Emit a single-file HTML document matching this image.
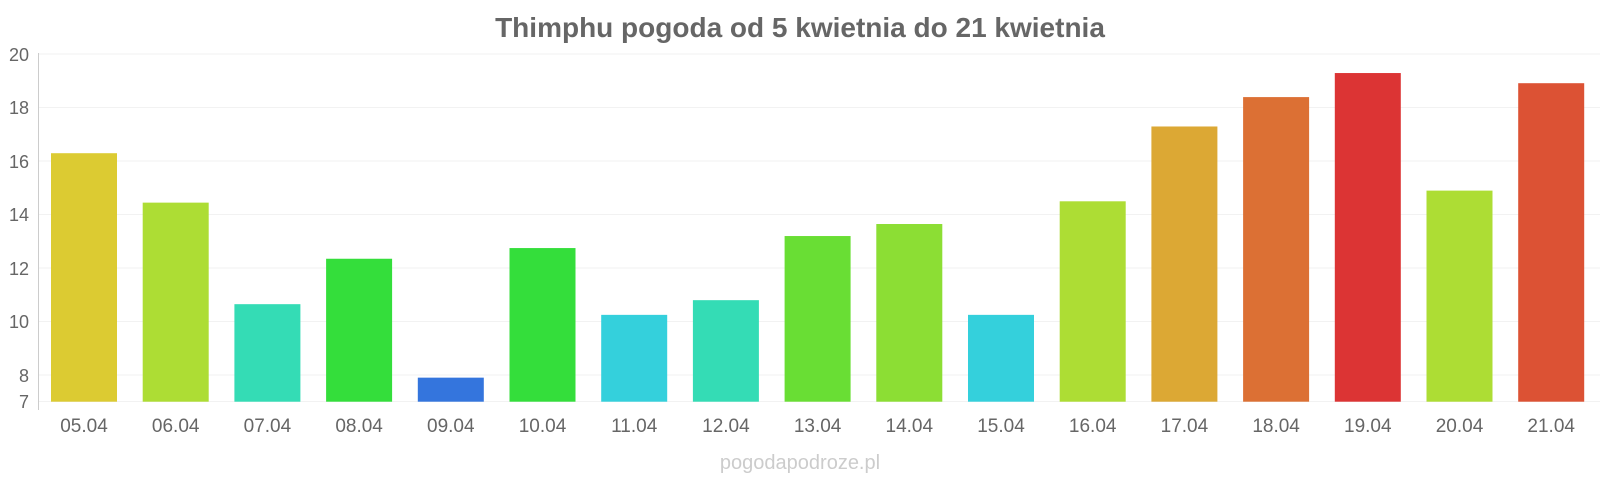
<!DOCTYPE html>
<html><head><meta charset="utf-8"><style>html,body{margin:0;padding:0;background:#fff}svg{display:block}</style></head>
<body>
<svg width="1600" height="480" xmlns="http://www.w3.org/2000/svg" font-family="Liberation Sans, sans-serif">
<text x="800" y="37" text-anchor="middle" font-size="28" font-weight="bold" fill="#666">Thimphu pogoda od 5 kwietnia do 21 kwietnia</text>
<g stroke="#f2f2f2" stroke-width="1">
<line x1="39" x2="1600" y1="54" y2="54"/><line x1="39" x2="1600" y1="107.5" y2="107.5"/><line x1="39" x2="1600" y1="161" y2="161"/><line x1="39" x2="1600" y1="214.5" y2="214.5"/><line x1="39" x2="1600" y1="268" y2="268"/><line x1="39" x2="1600" y1="321.5" y2="321.5"/><line x1="39" x2="1600" y1="375" y2="375"/><line x1="39" x2="1600" y1="401.5" y2="401.5"/>
</g>
<line x1="38.5" x2="38.5" y1="53" y2="410" stroke="#ccc"/>
<g font-size="18" fill="#666" text-anchor="end">
<text x="29" y="61">20</text><text x="29" y="114">18</text><text x="29" y="168">16</text><text x="29" y="221">14</text><text x="29" y="275">12</text><text x="29" y="328">10</text><text x="29" y="382">8</text><text x="29" y="408">7</text>
</g>
<g id="bars"></g>
<g font-size="19" fill="#666" text-anchor="middle" id="labels"></g>
<text x="800" y="469" text-anchor="middle" font-size="20" fill="#ccc">pogodapodroze.pl</text>
<script>
var v=[16.3,14.45,10.65,12.35,7.9,12.75,10.25,10.8,13.2,13.65,10.25,14.5,17.3,18.4,19.3,14.9,18.92];
var c=["#dccb32","#addd34","#34dcb5","#34de3b","#3475dd","#34de3b","#34d0dc","#34dcb5","#69de34","#8cde34","#34d0dc","#addd34","#dca834","#dc7034","#dc3434","#addd34","#dc5234"];
var b=document.getElementById('bars'),l=document.getElementById('labels'),ns="http://www.w3.org/2000/svg";
for(var i=0;i<17;i++){var x=51+91.7*i,y=401.7-(v[i]-7)*26.72;
var r=document.createElementNS(ns,'rect');r.setAttribute('x',x);r.setAttribute('y',y);r.setAttribute('width',66);r.setAttribute('height',401.7-y);r.setAttribute('fill',c[i]);b.appendChild(r);
var t=document.createElementNS(ns,'text');t.setAttribute('x',x+33);t.setAttribute('y',432);t.textContent=(i+5<10?'0':'')+(i+5)+'.04';l.appendChild(t);}
</script>
</svg>
</body></html>
